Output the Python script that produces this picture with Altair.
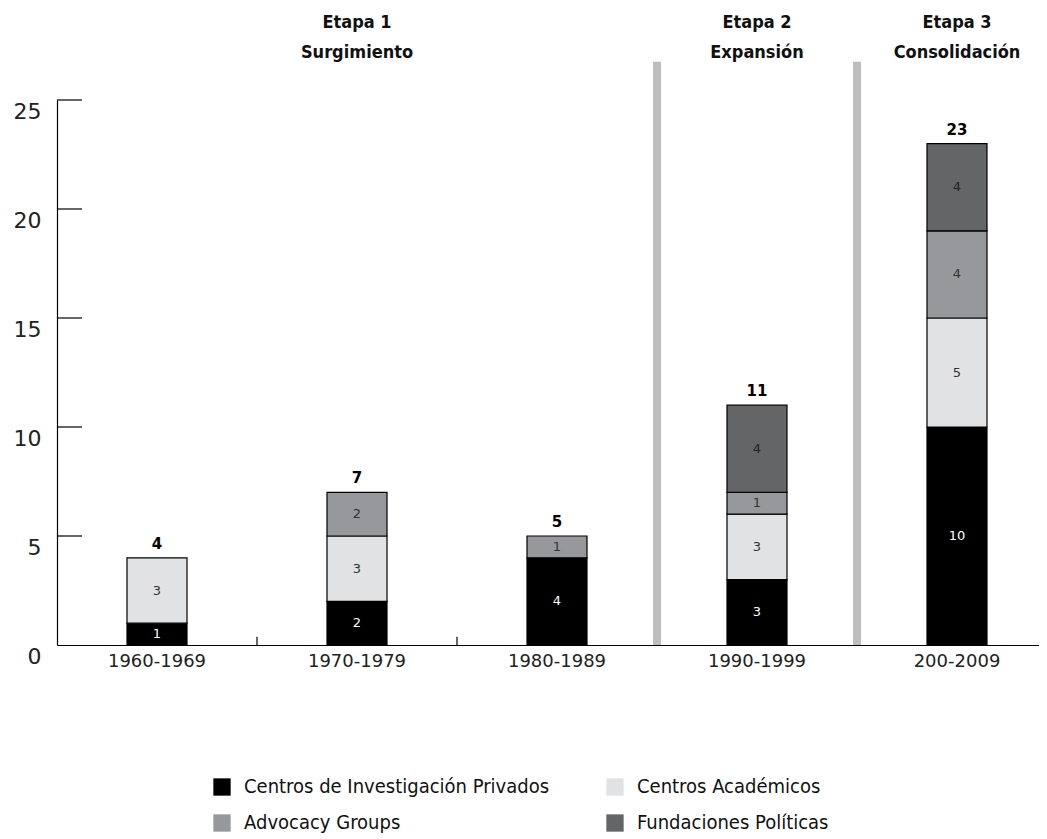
import altair as alt
import pandas as pd

periods = ["1960-1969", "1970-1979", "1980-1989", "1990-1999", "200-2009"]
types = ["Centros de Investigación Privados", "Centros Académicos",
         "Advocacy Groups", "Fundaciones Políticas"]
colors = ["#000000", "#e1e2e4", "#97989b", "#646567"]
label_colors = ["#ffffff", "#333333", "#333333", "#222222"]

privados = [1, 2, 4, 3, 10]
academicos = [3, 3, 0, 3, 5]
advocacy = [0, 2, 1, 1, 4]
fundaciones = [0, 0, 0, 4, 4]

stage_periods = ["1970-1979", "1990-1999", "200-2009"]
stage_labels = ["Etapa 1\nSurgimiento", "Etapa 2\nExpansión", "Etapa 3\nConsolidación"]
separator_periods = ["1990-1999", "200-2009"]
xtick_periods = ["1970-1979", "1980-1989"]
y_ticks = [5, 10, 15, 20, 25]

FONT = "DejaVu Sans"
FONT_C = "DejaVu Sans Condensed, DejaVu Sans"

rows = []
for i, p in enumerate(periods):
    for k, (t, vals) in enumerate(zip(types, [privados, academicos, advocacy, fundaciones])):
        if vals[i] > 0:
            rows.append({"period": p, "type": t, "value": vals[i], "ord": k,
                         "lc": label_colors[k]})
df = pd.DataFrame(rows)
totals = pd.DataFrame({"period": periods,
                       "total": [a + b + c + d for a, b, c, d in
                                 zip(privados, academicos, advocacy, fundaciones)]})
stages = pd.DataFrame({"period": stage_periods, "label": stage_labels, "y": [28.1] * 3})
seps = pd.DataFrame({"period": separator_periods, "y0": [0] * 2, "y1": [26.75] * 2})
xt = pd.DataFrame({"period": xtick_periods, "y0": [0] * 2, "y1": [0.38] * 2})
yt = pd.DataFrame({"v": y_ticks})

x_scale = alt.Scale(domain=periods, range=[0, 1000], paddingInner=0, paddingOuter=0)
x_axis = alt.Axis(title=None, ticks=False, domain=True, domainColor="#000000",
                  domainWidth=1.2, labelFontSize=18, labelFont=FONT, labelColor="#222222",
                  labelPadding=7, labelAngle=0)
y_scale = alt.Scale(domain=[0, 25], nice=False)
y_axis = alt.Axis(title=None, values=[0, 5, 10, 15, 20, 25], ticks=False, grid=False,
                  domain=True, domainColor="#000000", domainWidth=1.2,
                  labelFontSize=22, labelFont=FONT, labelColor="#222222",
                  labelPadding=16, labelOffset=11)


def X(**kw):
    return alt.X("period:N", sort=periods, scale=x_scale, axis=x_axis, **kw)


def Y(field):
    return alt.Y(field, scale=y_scale, axis=y_axis)


bars = alt.Chart(df).mark_bar(size=60, stroke="#000000", strokeWidth=1.2).encode(
    x=X(),
    y=alt.Y("value:Q", stack="zero", scale=y_scale, axis=y_axis),
    color=alt.Color("type:N", scale=alt.Scale(domain=types, range=colors),
                    legend=alt.Legend(title=None, orient="none", legendX=155, legendY=677,
                                      direction="horizontal",
                                      columns=2, columnPadding=55, rowPadding=16,
                                      symbolType="square", symbolSize=300,
                                      symbolStrokeWidth=0, symbolOffset=0,
                                      labelFontSize=20, labelFont=FONT_C,
                                      labelColor="#111111", labelOffset=12,
                                      labelLimit=400, padding=0)),
    order=alt.Order("ord:Q"),
)

seg_text = alt.Chart(df).transform_stack(
    stack="value", groupby=["period"], sort=[alt.SortField("ord")], as_=["s0", "s1"]
).transform_calculate(mid="(datum.s0 + datum.s1) / 2").mark_text(
    fontSize=13, font=FONT, baseline="middle"
).encode(x=X(), y=Y("mid:Q"), text="value:Q", color=alt.Color("lc:N", scale=None))

tot_text = alt.Chart(totals).mark_text(
    fontSize=15, font=FONT, fontWeight="bold", baseline="bottom", dy=-6, color="#000000"
).encode(x=X(), y=Y("total:Q"), text="total:Q")

stage_text = alt.Chart(stages).mark_text(
    fontSize=18, font=FONT_C, fontWeight="bold", baseline="bottom", lineBreak="\n",
    lineHeight=30, color="#111111"
).encode(x=X(), y=Y("y:Q"), text="label:N")

sep_rules = alt.Chart(seps).mark_rule(strokeWidth=8, color="#bdbdbd").encode(
    x=X(bandPosition=0), y=Y("y0:Q"), y2="y1:Q")

xtick_rules = alt.Chart(xt).mark_rule(strokeWidth=1.2, color="#000000").encode(
    x=X(bandPosition=0), y=Y("y0:Q"), y2="y1:Q")

ytick_rules = alt.Chart(yt).mark_rule(strokeWidth=1.2, color="#000000").encode(
    y=Y("v:Q"), x=alt.value(0), x2=alt.value(25))

chart = alt.layer(
    sep_rules, bars, seg_text, tot_text, stage_text, xtick_rules, ytick_rules
).properties(
    width=982, height=545,
    autosize=alt.AutoSizeParams(type="none"),
    padding={"left": 49, "top": 92, "right": 0, "bottom": 192},
).configure_view(stroke=None)

chart.save("out.html", embed_options={"renderer": "svg", "actions": False})
